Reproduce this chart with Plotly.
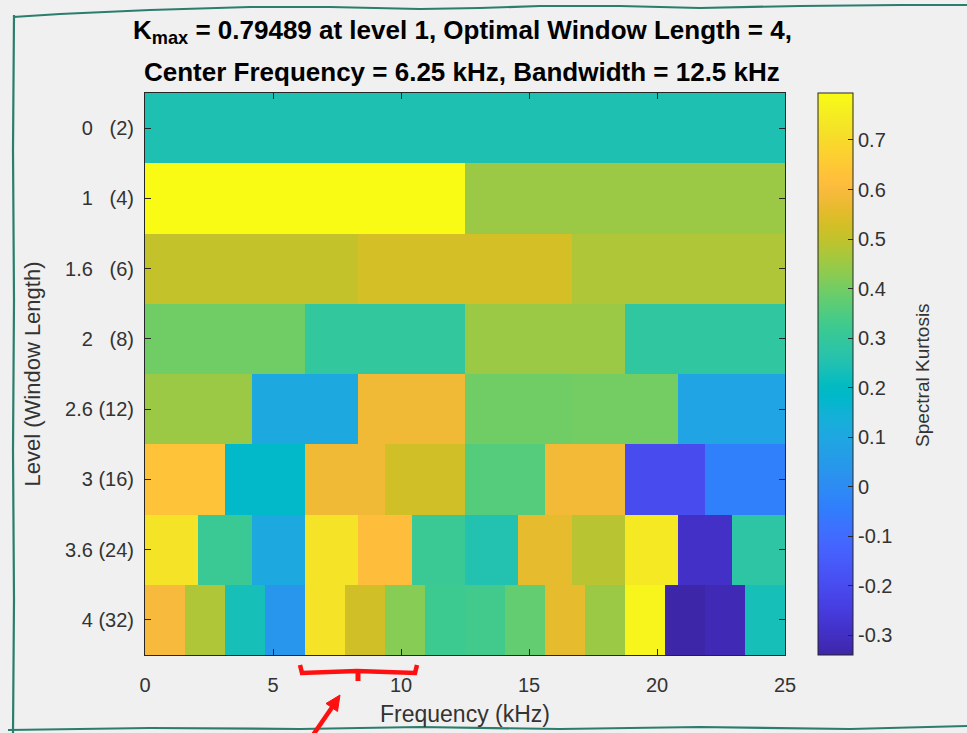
import numpy as np
import plotly.graph_objects as go

# Kurtogram: spectral kurtosis per level / frequency band
levels = ["0", "1", "1.6", "2", "2.6", "3", "3.6", "4"]
window_lengths = [2, 4, 6, 8, 12, 16, 24, 32]

sk_level_0 = [0.245]
sk_level_1 = [0.79489, 0.45]
sk_level_1_6 = [0.505, 0.529, 0.474]
sk_level_2 = [0.396, 0.296, 0.45, 0.288]
sk_level_2_6 = [0.45, 0.106, 0.578, 0.396, 0.40, 0.088]
sk_level_3 = [0.632, 0.187, 0.578, 0.523, 0.36, 0.585, -0.202, -0.039]
sk_level_3_6 = [0.723, 0.315, 0.106, 0.723, 0.614, 0.315,
                0.251, 0.56, 0.487, 0.74, -0.292, 0.28]
sk_level_4 = [0.595, 0.475, 0.233, 0.034, 0.723, 0.523, 0.424, 0.323,
              0.33, 0.378, 0.56, 0.45, 0.777, -0.34, -0.32, 0.233]

fs_half_khz = 25.0
x_ticks = [0, 5, 10, 15, 20, 25]
cbar_ticks = [-0.3, -0.2, -0.1, 0, 0.1, 0.2, 0.3, 0.4, 0.5, 0.6, 0.7]

rows = [sk_level_0, sk_level_1, sk_level_1_6, sk_level_2,
        sk_level_2_6, sk_level_3, sk_level_3_6, sk_level_4]

# common fine grid of frequency bins, each band repeated over its bins
n_bins = 48
z = np.array([np.repeat(r, n_bins // len(r)) for r in rows])
freq = (np.arange(n_bins) + 0.5) * fs_half_khz / n_bins
row_idx = np.arange(len(levels))
# pad single-digit window lengths with a digit-wide space
row_labels = [f"{lv}\u00a0{'' if wl >= 10 else chr(0x2007)}({wl})"
              for lv, wl in zip(levels, window_lengths)]
cbar_text = [f"{v:g}" for v in cbar_ticks]

parula = [
    [0.2422, 0.1504, 0.6603], [0.2504, 0.1650, 0.7076], [0.2578, 0.1818, 0.7511],
    [0.2647, 0.1978, 0.7952], [0.2706, 0.2147, 0.8364], [0.2751, 0.2342, 0.8710],
    [0.2783, 0.2559, 0.8991], [0.2803, 0.2782, 0.9221], [0.2813, 0.3006, 0.9414],
    [0.2810, 0.3228, 0.9579], [0.2795, 0.3447, 0.9717], [0.2760, 0.3667, 0.9829],
    [0.2699, 0.3892, 0.9906], [0.2602, 0.4123, 0.9952], [0.2440, 0.4358, 0.9988],
    [0.2206, 0.4603, 0.9973], [0.1963, 0.4847, 0.9892], [0.1834, 0.5074, 0.9798],
    [0.1786, 0.5289, 0.9682], [0.1764, 0.5499, 0.9520], [0.1687, 0.5703, 0.9359],
    [0.1540, 0.5902, 0.9218], [0.1460, 0.6091, 0.9079], [0.1380, 0.6276, 0.8973],
    [0.1248, 0.6459, 0.8883], [0.1113, 0.6635, 0.8763], [0.0952, 0.6798, 0.8598],
    [0.0689, 0.6948, 0.8394], [0.0297, 0.7082, 0.8163], [0.0036, 0.7203, 0.7917],
    [0.0067, 0.7312, 0.7660], [0.0433, 0.7411, 0.7394], [0.0964, 0.7500, 0.7120],
    [0.1408, 0.7584, 0.6842], [0.1717, 0.7670, 0.6554], [0.1938, 0.7758, 0.6251],
    [0.2161, 0.7843, 0.5923], [0.2470, 0.7918, 0.5567], [0.2906, 0.7973, 0.5188],
    [0.3406, 0.8008, 0.4789], [0.3909, 0.8029, 0.4354], [0.4456, 0.8024, 0.3909],
    [0.5044, 0.7993, 0.3480], [0.5616, 0.7942, 0.3045], [0.6174, 0.7876, 0.2612],
    [0.6720, 0.7793, 0.2227], [0.7242, 0.7698, 0.1910], [0.7738, 0.7598, 0.1646],
    [0.8203, 0.7498, 0.1535], [0.8634, 0.7406, 0.1596], [0.9035, 0.7330, 0.1774],
    [0.9393, 0.7288, 0.2100], [0.9728, 0.7298, 0.2394], [0.9956, 0.7434, 0.2371],
    [0.9970, 0.7659, 0.2199], [0.9952, 0.7893, 0.2028], [0.9892, 0.8136, 0.1885],
    [0.9786, 0.8386, 0.1766], [0.9676, 0.8639, 0.1643], [0.9610, 0.8890, 0.1537],
    [0.9597, 0.9135, 0.1423], [0.9628, 0.9373, 0.1265], [0.9691, 0.9606, 0.1064],
    [0.9769, 0.9839, 0.0805],
]
colorscale = [[i / (len(parula) - 1),
               "rgb({},{},{})".format(*[round(c * 255) for c in rgb])]
              for i, rgb in enumerate(parula)]

FONT = "Liberation Sans, Arial, Helvetica, sans-serif"
TXT = "#333333"

W_PX, H_PX = 967, 733
L, R, T, B = 145, 182, 93, 78
PW, PH = W_PX - L - R, H_PX - T - B


def px(x):
    return (x - L) / PW


def py(y):
    return 1 - (y - T) / PH


fig = go.Figure(go.Heatmap(
    x=freq, y=row_idx, z=z,
    colorscale=colorscale,
    zmin=float(z.min()), zmax=float(z.max()),
    hovertemplate="%{x:.2f} kHz<br>level %{y}<br>SK = %{z:.4f}<extra></extra>",
    colorbar=dict(
        x=px(818), xanchor="left", xref="paper",
        y=0.5, yanchor="middle", len=1, lenmode="fraction",
        thickness=35, thicknessmode="pixels",
        outlinecolor="#262626", outlinewidth=1,
        tickvals=cbar_ticks, ticktext=cbar_text,
        ticks="inside", ticklen=5, tickcolor="#262626",
        tickfont=dict(family=FONT, size=20, color=TXT),
        xpad=0, ypad=0,
    ),
))

axis_common = dict(
    showline=True, linecolor="#262626", linewidth=1, mirror="ticks",
    ticks="inside", ticklen=6, tickcolor="#262626",
    showgrid=False, zeroline=False,
    tickfont=dict(family=FONT, size=20, color=TXT),
)

fig.update_xaxes(
    range=[0, fs_half_khz], tickvals=x_ticks,
    title=dict(text="Frequency (kHz)", font=dict(family=FONT, size=23, color=TXT),
               standoff=10),
    ticklabelstandoff=12,
    **axis_common,
)
fig.update_yaxes(
    range=[len(levels) - 0.5, -0.5], tickvals=row_idx, ticktext=row_labels,
    title=dict(text="Level (Window Length)",
               font=dict(family=FONT, size=22, color=TXT), standoff=18),
    ticklabelstandoff=6,
    **axis_common,
)

title_font = dict(family=FONT, size=26, color="#000000")
annotations = [
    dict(text="<b>K<sub>max</sub> = 0.79489 at level 1, Optimal Window Length = 4,</b>",
         x=px(462), y=py(31), xref="paper", yref="paper",
         showarrow=False, font=title_font, xanchor="center", yanchor="middle"),
    dict(text="<b>Center Frequency = 6.25 kHz, Bandwidth = 12.5 kHz</b>",
         x=px(462), y=py(72), xref="paper", yref="paper",
         showarrow=False, font=title_font, xanchor="center", yanchor="middle"),
    # colorbar label
    dict(text="Spectral Kurtosis", textangle=-90,
         x=px(922), y=py(375), xref="paper", yref="paper",
         showarrow=False, font=dict(family=FONT, size=19, color=TXT),
         xanchor="center", yanchor="middle"),
]


def path_px(points, close=False):
    pts = [f"{px(x):.5f},{py(y):.5f}" for x, y in points]
    return "M " + pts[0] + " " + " ".join(f"L {p}" for p in pts[1:]) + (" Z" if close else "")


frame_color = "#2b7d6d"
top_edge = [(13, 17), (60, 14), (150, 10), (250, 7), (330, 7), (420, 9),
            (480, 8), (540, 6), (620, 6), (700, 8), (800, 6), (900, 5), (967, 5)]
left_edge = [(14, 15), (13, 150), (14, 300), (13, 450), (14, 600), (13, 733)]
bottom_edge = [(8, 730), (150, 728), (300, 729), (420, 727), (560, 729),
               (700, 727), (850, 729), (967, 726)]

shapes = [
    dict(type="path", path=path_px(e), xref="paper", yref="paper",
         line=dict(color=frame_color, width=2.2), layer="above")
    for e in (top_edge, left_edge, bottom_edge)
]

red = "#ff1010"
# red bracket under the 6.25-10.5 kHz stretch
bracket = [(300, 665), (302, 673), (357, 671), (415, 673), (417, 665)]
shapes.append(dict(type="path", path=path_px(bracket), xref="paper", yref="paper",
                   line=dict(color=red, width=4.5), layer="above"))
shapes.append(dict(type="path", path=path_px([(358, 671), (358, 681)]),
                   xref="paper", yref="paper",
                   line=dict(color=red, width=5), layer="above"))
# red arrow pointing up at the bracket
shapes.append(dict(type="path", path=path_px([(313, 735), (333, 706)]),
                   xref="paper", yref="paper",
                   line=dict(color=red, width=4.5), layer="above"))
shapes.append(dict(type="path",
                   path=path_px([(340, 695), (337.5, 711.5), (326, 703.5)], close=True),
                   xref="paper", yref="paper", fillcolor=red,
                   line=dict(color=red, width=1), layer="above"))

fig.update_layout(
    width=W_PX, height=H_PX,
    margin=dict(l=L, r=R, t=T, b=B, pad=0),
    paper_bgcolor="#f0f0f0", plot_bgcolor="#ffffff",
    font=dict(family=FONT, color=TXT),
    annotations=annotations, shapes=shapes,
    showlegend=False,
)

fig.write_html("out.html")
